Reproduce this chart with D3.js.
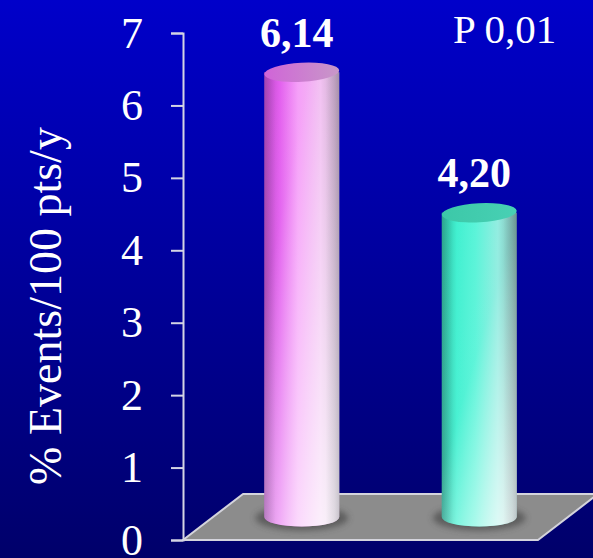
<!DOCTYPE html>
<html>
<head>
<meta charset="utf-8">
<script src="https://cdn.jsdelivr.net/npm/d3@7"></script>
<style>
  html, body { margin: 0; padding: 0; background: #000080; }
  svg { display: block; }
</style>
</head>
<body>
<svg id="chart" width="593" height="558"></svg>
<script>
// Data
const groups = ["A", "B"];
const values = [6.14, 4.20];
const yTicks = [0, 1, 2, 3, 4, 5, 6, 7];
const yTitle = "% Events/100 pts/y";
const pText = "P 0,01";

// Cylinder colour stops: [left edge, highlight, mid, light, right edge], top cap
const bodyColors = [
  ["#b848c4", "#e25cee", "#f59cf8", "#f0b8f0", "#b48cb4"],
  ["#2cb89c", "#40f0d0", "#58f4d8", "#90ece0", "#74aca4"]
];
const capColors = [
  ["#d064d8", "#c898c8"],
  ["#3cc8a8", "#48d0b4"]
];
// whitening toward the base: [start offset, max opacity]
const fadeSettings = [[0.25, 0.85], [0.45, 0.8]];

const W = 593, H = 558;
const svg = d3.select("#chart");
const defs = svg.append("defs");

const serif = "'Liberation Serif', 'Times New Roman', serif";

// Background
const bg = defs.append("linearGradient").attr("id", "bg")
  .attr("x1", 0).attr("y1", 0).attr("x2", 0).attr("y2", 1);
bg.append("stop").attr("offset", "0%").attr("stop-color", "#0000ca");
bg.append("stop").attr("offset", "100%").attr("stop-color", "#00006a");
svg.append("rect").attr("width", W).attr("height", H).attr("fill", "url(#bg)");

// Scales
const y = d3.scaleLinear().domain([0, 7]).range([540, 33]);
const x = d3.scaleBand().domain(groups).range([183, 538]);
const depthX = 60, depthY = -46;       // floor depth offset
const midX = depthX / 2, midY = depthY / 2;
const rx = 37.5, ry = 9.5;

// Floor
const x0 = x.range()[0], x1 = x.range()[1], yb = y(0);
svg.append("polygon")
  .attr("points", [
    [x0, yb], [x1, yb], [x1 + depthX, yb + depthY], [x0 + depthX, yb + depthY]
  ].map(p => p.join(",")).join(" "))
  .attr("fill", "#8c8c8c")
  .attr("stroke", "#d4d4dc")
  .attr("stroke-width", 2)
  .attr("stroke-linejoin", "round");

// Axis
const axis = d3.axisLeft(y).tickValues(yTicks).tickSize(12).tickPadding(28)
  .tickFormat(d3.format("d"));
const gAxis = svg.append("g").attr("transform", `translate(${x0},0)`).call(axis);
gAxis.selectAll("path, line").attr("stroke", "#d4d4e4").attr("stroke-width", 2);
gAxis.selectAll("text")
  .attr("fill", "#ffffff")
  .style("font-family", serif)
  .style("font-size", "44px");

// Shadow blur
const blur = defs.append("filter").attr("id", "blur")
  .attr("x", "-30%").attr("y", "-60%").attr("width", "160%").attr("height", "220%");
blur.append("feGaussianBlur").attr("stdDeviation", 3);

// Edge shading across the cylinder
const edge = defs.append("linearGradient").attr("id", "edge")
  .attr("x1", 0).attr("y1", 0).attr("x2", 1).attr("y2", 0);
[[0, 0.16], [0.15, 0], [0.82, 0], [0.94, 0.12], [1, 0.22]].forEach(([o, a]) =>
  edge.append("stop").attr("offset", o).attr("stop-color", "#303040").attr("stop-opacity", a));

const fmt = v => d3.format(".2f")(v).replace(".", ",");

groups.forEach((g, i) => {
  const cx = x(g) + x.bandwidth() / 2 + midX;
  const yBase = y(0) + midY;
  const yTop = y(values[i]) + midY;

  const bodyGrad = defs.append("linearGradient").attr("id", "body" + i)
    .attr("x1", 0).attr("y1", 0).attr("x2", 1).attr("y2", 0);
  [0, 0.2, 0.45, 0.75, 1].forEach((o, k) =>
    bodyGrad.append("stop").attr("offset", o).attr("stop-color", bodyColors[i][k]));

  // diagonal whitening, strongest at the lower right
  const fade = defs.append("linearGradient").attr("id", "fade" + i)
    .attr("x1", 0.1).attr("y1", 0).attr("x2", 0.9).attr("y2", 1);
  fade.append("stop").attr("offset", 0).attr("stop-color", "#ffffff").attr("stop-opacity", 0);
  fade.append("stop").attr("offset", fadeSettings[i][0]).attr("stop-color", "#ffffff").attr("stop-opacity", 0.05);
  fade.append("stop").attr("offset", 1).attr("stop-color", "#ffffff").attr("stop-opacity", fadeSettings[i][1]);

  const capGrad = defs.append("linearGradient").attr("id", "cap" + i)
    .attr("x1", 0).attr("y1", 0).attr("x2", 1).attr("y2", 0);
  capGrad.append("stop").attr("offset", 0).attr("stop-color", capColors[i][0]);
  capGrad.append("stop").attr("offset", 1).attr("stop-color", capColors[i][1]);

  // shadow on floor
  svg.append("ellipse")
    .attr("cx", cx).attr("cy", yBase + 1)
    .attr("rx", rx + 9).attr("ry", ry + 3)
    .attr("fill", "#3c3c3c").attr("opacity", 0.6)
    .attr("filter", "url(#blur)");

  const bodyPath =
    `M${cx - rx},${yTop} L${cx - rx},${yBase} ` +
    `A${rx},${ry} 0 0 0 ${cx + rx},${yBase} L${cx + rx},${yTop} Z`;

  const gBar = svg.append("g");
  gBar.append("path").attr("d", bodyPath).attr("fill", `url(#body${i})`);
  gBar.append("path").attr("d", bodyPath).attr("fill", `url(#fade${i})`);
  gBar.append("path").attr("d", bodyPath).attr("fill", "url(#edge)");

  // top cap
  gBar.append("ellipse")
    .attr("cx", cx).attr("cy", yTop)
    .attr("rx", rx).attr("ry", ry)
    .attr("transform", `rotate(-3 ${cx} ${yTop})`)
    .attr("fill", `url(#cap${i})`);

  // value label
  svg.append("text")
    .attr("x", cx - 5)
    .attr("y", yTop - ry - 16)
    .attr("text-anchor", "middle")
    .attr("fill", "#ffffff")
    .style("font-family", serif)
    .style("font-weight", "bold")
    .style("font-size", "42px")
    .text(fmt(values[i]));
});

// P value
svg.append("text")
  .attr("x", 453).attr("y", 43)
  .attr("fill", "#ffffff")
  .style("font-family", serif)
  .style("font-size", "41px")
  .text(pText);

// Y title
svg.append("text")
  .attr("transform", "translate(61,306) rotate(-90)")
  .attr("text-anchor", "middle")
  .attr("fill", "#ffffff")
  .style("font-family", serif)
  .style("font-size", "46px")
  .text(yTitle);
</script>
</body>
</html>
